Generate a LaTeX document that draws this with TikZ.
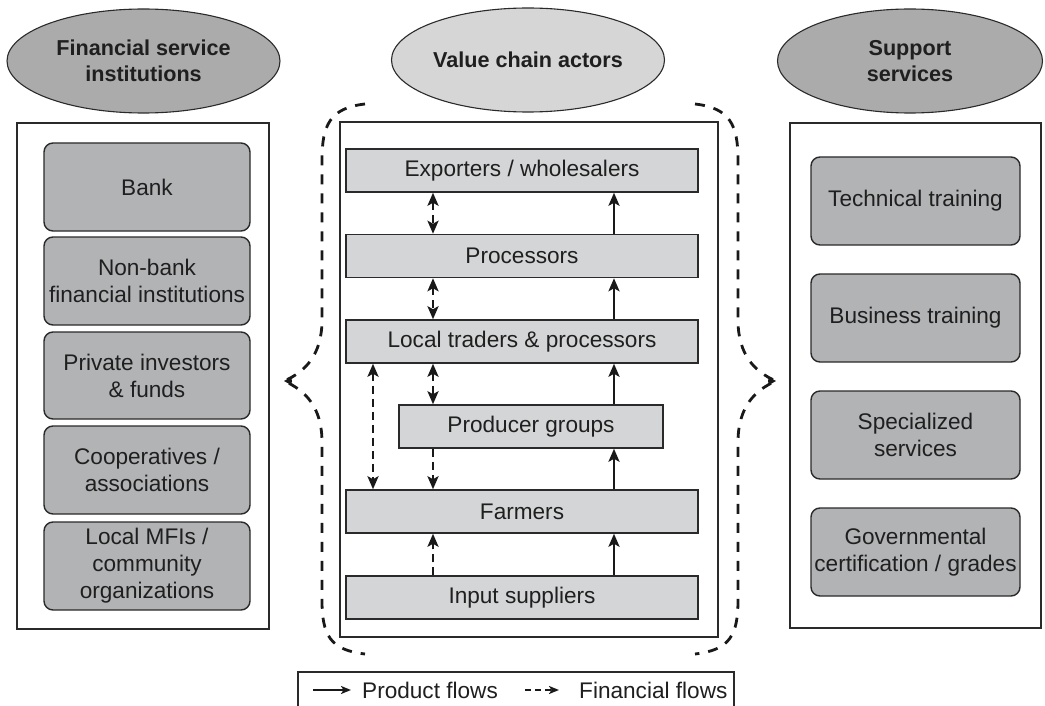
\documentclass[tikz,border=0pt]{standalone}
\usepackage{fontspec}
\setmainfont{Liberation Sans}
\usetikzlibrary{arrows.meta,shapes.geometric}
\definecolor{ellgray}{HTML}{ABABAB}
\definecolor{elllight}{HTML}{D6D6D6}
\definecolor{sidegray}{HTML}{B2B3B5}
\definecolor{chaingray}{HTML}{D4D5D6}
\definecolor{linegray}{HTML}{2A2A2A}
\begin{document}
\begin{tikzpicture}[x=1pt,y=-1pt,
  every node/.style={font=\fontsize{22.6}{27}\selectfont, inner sep=0pt, align=center, text=black!88},
  title/.style={ellipse, draw=linegray, line width=1.1pt, minimum height=104pt,
    font=\bfseries\fontsize{21.6}{26}\selectfont},
  panel/.style={draw=linegray, line width=1.2pt, fill=white},
  sidebox/.style={draw=linegray, line width=1.4pt, rounded corners=9pt, fill=sidegray, minimum width=206pt},
  chainbox/.style={draw=linegray, line width=1.5pt, fill=chaingray, minimum height=43pt},
  prod/.style={line width=2.7pt, draw=black!90, -{Stealth[length=13pt,width=11pt,inset=3pt]}},
  fin/.style={prod, dash pattern=on 8pt off 5pt},
  finboth/.style={fin, {Stealth[length=13pt,width=11pt,inset=3pt]}-{Stealth[length=13pt,width=11pt,inset=3pt]}},
  bracepath/.style={line width=2.8pt, draw=black!90, dash pattern=on 10pt off 9pt},
  bracetip/.style={line width=2pt, draw=black!90, -{Stealth[length=9pt,width=10pt,inset=2pt]}},
  legprod/.style={line width=2.2pt, draw=black!90, -{Stealth[length=10pt,width=8pt,inset=2.5pt]}},
  legfin/.style={legprod, dash pattern=on 6pt off 4pt}
]
\useasboundingbox (0,0) rectangle (1045,706);

% titles
\node[title, fill=ellgray, minimum width=273pt] (fsi) at (143.5,61) {Financial service\\institutions};
\node[title, fill=elllight, minimum width=273pt] (vca) at (528,60) {Value chain actors};
\node[title, fill=ellgray, minimum width=265pt] (ss) at (910,61) {Support\\services};

% panels
\node[panel, minimum width=252pt, minimum height=506pt] (lpanel) at (143,376) {};
\node[panel, minimum width=378pt, minimum height=515pt] (mpanel) at (529,379.5) {};
\node[panel, minimum width=251pt, minimum height=505pt] (rpanel) at (915.5,375.5) {};

% left boxes
\node[sidebox, minimum height=88pt] (bank) at (147,187) {Bank};
\node[sidebox, minimum height=88pt] (nbfi) at (147,281) {Non-bank\\financial institutions};
\node[sidebox, minimum height=87pt] (piv) at (147,375.5) {Private investors\\\& funds};
\node[sidebox, minimum height=88pt] (coop) at (147,470) {Cooperatives /\\associations};
\node[sidebox, minimum height=88pt] (mfi) at (147,566) {Local MFIs /\\community\\organizations};

% right boxes
\node[sidebox, minimum width=209pt, minimum height=88pt] (tech) at (915.5,201) {Technical training};
\node[sidebox, minimum width=209pt, minimum height=88pt] (bus) at (915.5,318) {Business training};
\node[sidebox, minimum width=209pt, minimum height=88pt] (spec) at (915.5,435) {Specialized\\services};
\node[sidebox, minimum width=209pt, minimum height=88pt] (gov) at (915.5,552) {Governmental\\certification / grades};

% chain boxes
\node[chainbox, minimum width=352pt] (exp) at (522,170.5) {Exporters / wholesalers};
\node[chainbox, minimum width=352pt] (proc) at (522,256) {Processors};
\node[chainbox, minimum width=352pt] (lt) at (522,341.5) {Local traders \& processors};
\node[chainbox, minimum width=264pt] (pg) at (531,426.5) {Producer groups};
\node[chainbox, minimum width=352pt] (farm) at (522,511.5) {Farmers};
\node[chainbox, minimum width=352pt] (inp) at (522,597.5) {Input suppliers};

% columns
\coordinate (colA) at (373,0);
\coordinate (colB) at (433,0);
\coordinate (colC) at (614,0);

% product flows
\draw[prod] (proc.north -| colC) -- (exp.south -| colC);
\draw[prod] (lt.north -| colC) -- (proc.south -| colC);
\draw[prod] (pg.north -| colC) -- (lt.south -| colC);
\draw[prod] (farm.north -| colC) -- (pg.south -| colC);
\draw[prod] (inp.north -| colC) -- (farm.south -| colC);

% financial flows
\draw[finboth] (exp.south -| colB) -- (proc.north -| colB);
\draw[finboth] (proc.south -| colB) -- (lt.north -| colB);
\draw[finboth] (lt.south -| colB) -- (pg.north -| colB);
\draw[finboth] (lt.south -| colA) -- (farm.north -| colA);
\draw[fin] (pg.south -| colB) -- (farm.north -| colB);
\draw[fin] (inp.north -| colB) -- (farm.south -| colB);

% braces
\coordinate (ltip) at (284,381);
\coordinate (rtip) at (776,381);
\draw[bracepath] (365,104) .. controls (330,108) and (322,125) .. (322,160) -- (322,320)
  .. controls (322,355) and (305,372) .. (ltip)
  .. controls (305,390) and (322,407) .. (322,442) -- (322,600)
  .. controls (322,635) and (330,650) .. (365,654);
\draw[bracepath] (695,104) .. controls (730,108) and (738,125) .. (738,160) -- (738,320)
  .. controls (738,355) and (755,372) .. (rtip)
  .. controls (755,390) and (738,407) .. (738,442) -- (738,600)
  .. controls (738,635) and (730,650) .. (695,654);
\draw[bracetip] ([xshift=8pt]ltip) -- (ltip);
\draw[bracetip] ([xshift=-8pt]rtip) -- (rtip);

% legend
\draw[line width=1.2pt, draw=linegray] (298,712) -- (298,672) -- (734,672) -- (734,712);
\coordinate (l1a) at (313,690);
\coordinate (l1b) at (351,690);
\coordinate (l2a) at (525,690);
\coordinate (l2b) at (559,690);
\draw[legprod] (l1a) -- (l1b);
\node[anchor=west] (lprod) at (362,690) {Product flows};
\draw[legfin] (l2a) -- (l2b);
\node[anchor=west] (lfin) at (579,690) {Financial flows};
\end{tikzpicture}
\end{document}
